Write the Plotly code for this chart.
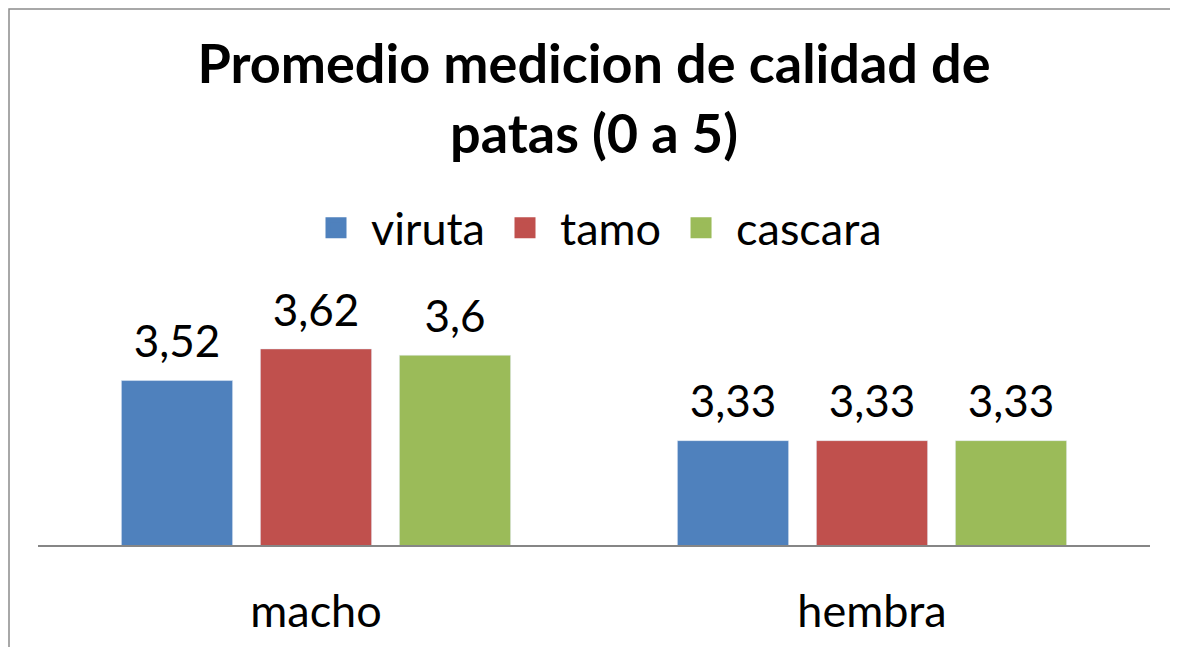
import plotly.graph_objects as go

categories = ["macho", "hembra"]
series_names = ["viruta", "tamo", "cascara"]
viruta = [3.52, 3.33]
tamo = [3.62, 3.33]
cascara = [3.6, 3.33]
series_values = [viruta, tamo, cascara]
colors = ["#4F81BD", "#C0504D", "#9BBB59"]

W, H = 1178, 647
ML, MR, MT, MB = 30, 36, 284, 110
FONT = "Lato, 'Open Sans', sans-serif"

fig = go.Figure()
for name, vals, col in zip(series_names, series_values, colors):
    fig.add_trace(go.Bar(x=categories, y=vals, name=name, marker_color=col,
                         showlegend=False, offsetgroup=name))
for name, vals, col in zip(series_names, series_values, colors):
    fig.add_trace(go.Scatter(
        x=categories, y=vals, mode="markers+text", orientation="v",
        offsetgroup=name, marker=dict(size=18, opacity=0, color=col),
        text=[f"{v:g}".replace(".", ",") for v in vals],
        textposition="top center",
        textfont=dict(size=44, color="black", family=FONT),
        showlegend=False, hoverinfo="skip", cliponaxis=False))
for name, col in zip(series_names, colors):
    fig.add_trace(go.Scatter(
        x=[None], y=[None], mode="markers", name=name,
        marker=dict(symbol="square", size=16, color=col, line=dict(color=col, width=5))))

pw = W - ML - MR
ph = H - MT - MB
fig.update_layout(
    width=W, height=H,
    margin=dict(l=ML, r=MR, t=MT, b=MB, pad=0),
    paper_bgcolor="white", plot_bgcolor="white",
    barmode="group", bargap=0.25, bargroupgap=0.2,
    scattermode="group", scattergap=0.25,
    font=dict(family=FONT, color="black"),
    title=dict(text="Promedio medicion de calidad de<br>patas (0 a 5)",
               x=0.5, xref="paper", xanchor="center",
               y=0.884, yref="container", yanchor="top",
               font=dict(size=54, family=FONT, weight="bold", color="black")),
    legend=dict(orientation="h", x=0.5, xanchor="center", xref="paper",
                y=(H - MB - 220) / ph, yanchor="middle",
                font=dict(size=45, family=FONT), itemsizing="trace",
                itemwidth=60, bgcolor="rgba(0,0,0,0)"),
    xaxis=dict(showline=True, linecolor="#868686", linewidth=1.5,
               showgrid=False, ticks="", tickfont=dict(size=45, family=FONT),
               ticklabelstandoff=26),
    yaxis=dict(range=[3, 3.8], visible=False, showgrid=False),
    shapes=[dict(type="rect", xref="paper", yref="paper",
                 x0=(1 - ML) / pw, x1=(W + 40 - ML) / pw,
                 y0=(H - MB - (H + 40)) / ph, y1=(H - MB - 1) / ph,
                 line=dict(color="#8C8C8C", width=1.5), fillcolor="rgba(0,0,0,0)",
                 layer="above")],
)
fig.write_html("out.html")
